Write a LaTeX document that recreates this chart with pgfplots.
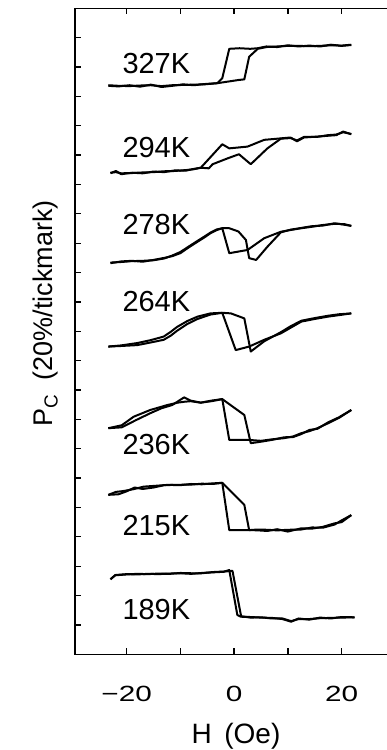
\documentclass[border=0pt]{standalone}
\usepackage{fontspec}
\setmainfont{Liberation Sans}
\newfontfamily\tickfont[FakeStretch=1.35]{Liberation Sans}
\usepackage{pgfplots}
\pgfplotsset{compat=1.18}
\pgfplotsset{curve/.style={black, solid, line width=2.0pt, line join=round, mark=none}}
\begin{document}
\begin{tikzpicture}
\useasboundingbox (-75pt,-95.7pt) rectangle (311pt,654.3pt);
\begin{axis}[
  scale only axis, width=320.35pt, height=646pt,
  at={(0pt,0pt)}, anchor=south west,
  xmin=-29.6, xmax=30, ymin=0, ymax=22,
  axis line style={line width=1.3pt, black},
  xtick={-20,0,20}, minor xtick={-10,10},
  ytick={1,...,21}, yticklabels={},
  tick align=inside, major tick length=6pt, minor tick length=6pt,
  every tick/.style={line width=1.3pt, black},
  xticklabels={−20,0,20},
  xticklabel style={font=\tickfont\fontsize{22}{26}\selectfont, anchor=base, yshift=-47.4pt},
  clip=false,
]
% 327K
\addplot[curve] coordinates {(-23.4,19.36) (-21.5,19.34) (-19.5,19.38) (-17.5,19.33) (-15.5,19.40) (-13.5,19.32) (-11.5,19.36) (-9.5,19.41) (-7.5,19.38) (-5.5,19.42) (-3.1,19.45) (-2.2,19.62) (-0.9,20.62) (1.0,20.64) (3.0,20.62) (4.4,20.64) (6.0,20.70) (8.0,20.68) (10.0,20.74) (12.0,20.70) (14.0,20.73) (16.0,20.70) (18.0,20.76) (20.0,20.72) (21.8,20.75)};
\addplot[curve] coordinates {(-23.4,19.38) (-21.5,19.36) (-19.5,19.35) (-17.5,19.37) (-15.5,19.38) (-13.5,19.35) (-11.5,19.38) (-9.5,19.39) (-7.5,19.40) (-5.5,19.41) (-3.1,19.45) (0.9,19.56) (1.9,19.58) (2.8,20.35) (4.4,20.62) (6.0,20.68) (8.0,20.70) (10.0,20.72) (12.0,20.72) (14.0,20.71) (16.0,20.72) (18.0,20.74) (20.0,20.73) (21.8,20.76)};
% 294K
\addplot[curve] coordinates {(-23.0,16.38) (-22.0,16.46) (-21.0,16.35) (-19.0,16.40) (-17.0,16.38) (-15.0,16.44) (-13.0,16.42) (-11.0,16.48) (-9.0,16.47) (-7.5,16.53) (-6.2,16.57) (-2.2,17.37) (-0.9,17.23) (2.5,17.29) (5.6,17.52) (8.7,17.57) (10.5,17.60) (11.7,17.47) (13.0,17.60) (15.4,17.63) (17.5,17.66) (19.0,17.68) (20.3,17.80) (21.8,17.71)};
\addplot[curve] coordinates {(-23.0,16.40) (-22.0,16.42) (-21.0,16.38) (-19.0,16.39) (-17.0,16.41) (-15.0,16.42) (-13.0,16.45) (-11.0,16.46) (-9.0,16.49) (-7.5,16.52) (-6.2,16.57) (-4.7,16.55) (-4.0,16.69) (-1.2,16.89) (0.9,17.03) (3.1,16.69) (6.2,17.23) (8.7,17.56) (10.5,17.58) (11.7,17.50) (13.0,17.62) (15.4,17.62) (17.5,17.68) (19.0,17.70) (20.3,17.78) (21.8,17.72)};
% 278K
\addplot[curve] coordinates {(-23.0,13.32) (-21.0,13.38) (-19.0,13.40) (-17.0,13.37) (-15.0,13.43) (-13.0,13.50) (-11.5,13.56) (-10.0,13.66) (-8.5,13.85) (-6.8,14.05) (-5.5,14.20) (-4.4,14.34) (-3.2,14.45) (-2.2,14.51) (-0.9,13.66) (2.5,13.77) (5.6,14.17) (8.7,14.39) (10.5,14.45) (12.5,14.51) (14.5,14.56) (16.5,14.62) (18.7,14.66) (20.5,14.65) (21.8,14.59)};
\addplot[curve] coordinates {(-23.0,13.34) (-21.0,13.36) (-19.0,13.39) (-17.0,13.40) (-15.0,13.42) (-13.0,13.48) (-11.5,13.58) (-10.0,13.70) (-8.5,13.88) (-6.8,14.08) (-5.5,14.23) (-4.4,14.36) (-3.2,14.47) (-2.2,14.51) (-0.9,14.51) (0.8,14.40) (2.2,14.11) (2.8,13.49) (4.1,13.43) (6.2,13.88) (8.7,14.37) (10.5,14.46) (12.5,14.52) (14.5,14.58) (16.5,14.60) (18.7,14.68) (20.5,14.63) (21.8,14.59)};
% 264K
\addplot[curve] coordinates {(-23.4,10.48) (-21.0,10.50) (-18.0,10.53) (-15.5,10.62) (-13.1,10.71) (-11.8,10.85) (-10.6,11.02) (-8.7,11.25) (-6.8,11.42) (-4.4,11.57) (-2.2,11.63) (0.3,10.36) (2.8,10.48) (5.6,10.71) (8.7,10.93) (10.5,11.12) (12.5,11.33) (15.0,11.42) (17.5,11.50) (19.5,11.55) (21.8,11.61)};
\addplot[curve] coordinates {(-23.4,10.48) (-21.0,10.52) (-18.0,10.60) (-15.5,10.70) (-13.1,10.82) (-11.8,10.98) (-10.6,11.15) (-8.7,11.35) (-6.8,11.50) (-4.4,11.61) (-2.2,11.63) (-0.6,11.61) (1.9,11.44) (3.1,10.31) (5.6,10.66) (8.7,10.97) (10.5,11.17) (12.5,11.36) (15.0,11.45) (17.5,11.53) (19.5,11.58) (21.8,11.61)};
% 236K
\addplot[curve] coordinates {(-23.4,7.70) (-20.9,7.80) (-18.7,8.09) (-15.6,8.32) (-12.4,8.49) (-10.5,8.57) (-9.3,8.60) (-8.1,8.62) (-6.2,8.57) (-4.2,8.64) (-2.2,8.69) (-0.9,7.30) (2.8,7.30) (5.0,7.27) (7.0,7.32) (9.3,7.36) (11.0,7.42) (12.5,7.53) (14.0,7.60) (15.5,7.70) (17.5,7.87) (19.5,8.05) (21.8,8.32)};
\addplot[curve] coordinates {(-23.4,7.70) (-20.9,7.73) (-18.2,7.98) (-15.6,8.21) (-13.5,8.38) (-11.5,8.49) (-9.3,8.75) (-8.1,8.64) (-6.2,8.57) (-4.2,8.62) (-2.2,8.69) (1.9,8.15) (3.1,7.19) (5.0,7.24) (7.0,7.30) (9.3,7.39) (11.0,7.40) (12.5,7.50) (14.0,7.64) (15.5,7.68) (17.5,7.90) (19.5,8.07) (21.8,8.32)};
% 215K
\addplot[curve] coordinates {(-23.4,5.43) (-22.0,5.53) (-20.6,5.56) (-18.8,5.62) (-16.8,5.71) (-14.5,5.74) (-12.4,5.77) (-10.0,5.76) (-8.0,5.80) (-6.0,5.79) (-4.0,5.82) (-2.2,5.84) (-0.9,4.23) (3.1,4.23) (4.5,4.22) (6.2,4.20) (8.0,4.26) (10.0,4.18) (12.5,4.29) (14.5,4.28) (16.5,4.34) (18.7,4.46) (20.0,4.50) (21.8,4.74)};
\addplot[curve] coordinates {(-23.4,5.43) (-21.5,5.45) (-20.0,5.55) (-18.5,5.68) (-17.0,5.63) (-15.0,5.68) (-13.0,5.76) (-11.0,5.77) (-8.0,5.78) (-6.0,5.81) (-4.0,5.80) (-2.2,5.84) (1.9,5.09) (2.8,4.23) (4.5,4.25) (6.2,4.24) (8.0,4.22) (10.0,4.24) (12.5,4.25) (14.5,4.32) (16.5,4.31) (18.7,4.42) (20.0,4.56) (21.8,4.74)};
% 189K
\addplot[curve] coordinates {(-23.0,2.55) (-22.1,2.70) (-20.0,2.73) (-18.0,2.72) (-16.0,2.74) (-14.0,2.73) (-12.0,2.75) (-10.0,2.76) (-8.0,2.74) (-6.0,2.77) (-4.0,2.79) (-1.9,2.81) (-0.9,2.87) (0.6,1.34) (1.25,1.28) (3.0,1.27) (5.0,1.25) (7.0,1.24) (9.0,1.20) (10.6,1.11) (12.0,1.22) (14.0,1.18) (16.0,1.25) (18.0,1.22) (20.0,1.27) (22.4,1.26)};
\addplot[curve] coordinates {(-23.0,2.56) (-22.1,2.69) (-20.0,2.72) (-18.0,2.74) (-16.0,2.73) (-14.0,2.75) (-12.0,2.74) (-10.0,2.77) (-8.0,2.76) (-6.0,2.76) (-4.0,2.80) (-1.9,2.82) (-0.3,2.84) (1.3,1.30) (3.0,1.25) (5.0,1.26) (7.0,1.22) (9.0,1.22) (10.6,1.13) (12.0,1.20) (14.0,1.20) (16.0,1.23) (18.0,1.24) (20.0,1.25) (22.4,1.26)};
\node[anchor=base west, font=\fontsize{29}{34}\selectfont, inner sep=0pt] at (axis cs:-20.8,19.79) {327K};
\node[anchor=base west, font=\fontsize{29}{34}\selectfont, inner sep=0pt] at (axis cs:-20.8,16.91) {294K};
\node[anchor=base west, font=\fontsize{29}{34}\selectfont, inner sep=0pt] at (axis cs:-20.8,14.28) {278K};
\node[anchor=base west, font=\fontsize{29}{34}\selectfont, inner sep=0pt] at (axis cs:-20.8,11.67) {264K};
\node[anchor=base west, font=\fontsize{29}{34}\selectfont, inner sep=0pt] at (axis cs:-20.8,6.79) {236K};
\node[anchor=base west, font=\fontsize{29}{34}\selectfont, inner sep=0pt] at (axis cs:-20.8,4.06) {215K};
\node[anchor=base west, font=\fontsize{29}{34}\selectfont, inner sep=0pt] at (axis cs:-20.8,1.17) {189K};
\coordinate (TL) at (rel axis cs:0,1);
\coordinate (TR) at (rel axis cs:1,1);
\coordinate (Ta) at (axis cs:-20,22);
\coordinate (Tb) at (axis cs:-10,22);
\coordinate (Tc) at (axis cs:0,22);
\coordinate (Td) at (axis cs:10,22);
\coordinate (Te) at (axis cs:20,22);
\end{axis}
\node[rotate=90, anchor=base, font=\fontsize{27}{32}\selectfont, inner sep=0pt] at (-22pt,341pt) {P\textsubscript{C}\hspace{0.5em}(20\%/tickmark)};
\node[anchor=base, font=\fontsize{28}{32}\selectfont, inner sep=0pt] at (161pt,-89pt) {H\hspace{0.45em}(Oe)};
\draw[line width=1.3pt, black] ([xshift=-0.65pt]TL) -- (TR);
\foreach \t in {Ta,Tb,Tc,Td,Te} \draw[line width=1.3pt, black] (\t) -- ++(0pt,-6pt);
\end{tikzpicture}
\end{document}
